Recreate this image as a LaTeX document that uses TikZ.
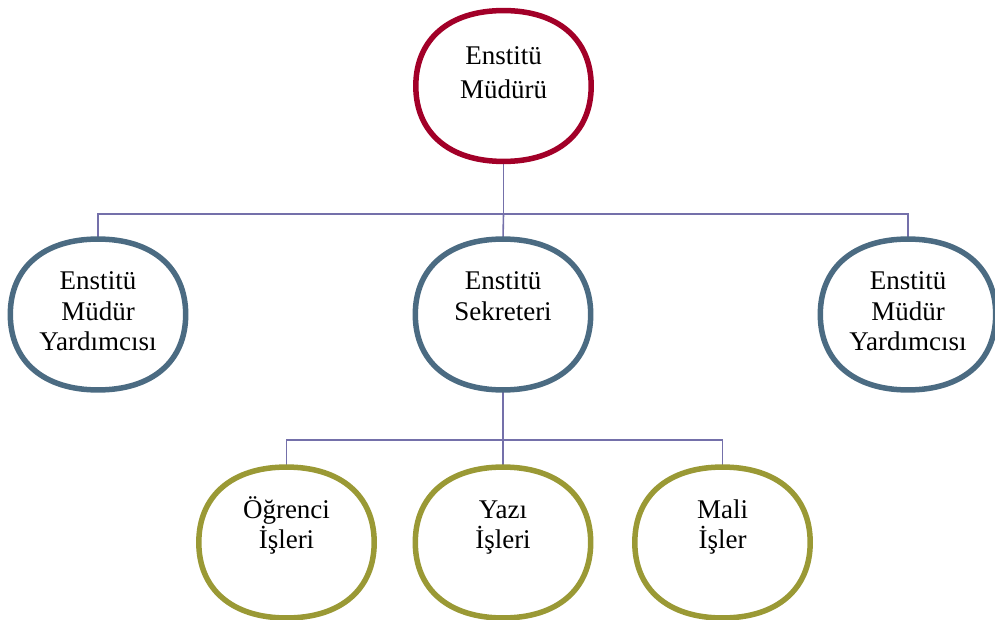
\documentclass[tikz,border=0pt]{standalone}
\usepackage{fontspec}
\setmainfont{Liberation Serif}
\usetikzlibrary{calc,backgrounds}
\definecolor{cred}{HTML}{A20028}
\definecolor{cblue}{HTML}{4B6B82}
\definecolor{colive}{HTML}{9A9935}
\definecolor{cline}{HTML}{7470AA}
\tikzset{
  box/.style={draw=none, minimum width=175pt, minimum height=150.5pt, inner sep=0pt},
  blobline/.style={line width=5.5pt, fill=white, line join=round},
  lbl/.style={align=center, inner sep=0pt, anchor=north, text=black,
    font=\fontsize{27}{30.5}\selectfont},
  conn/.style={draw=cline, line width=1.6pt}
}
\newcommand\drawblob[2]{%
  \filldraw[blobline, draw=#2]
  (#1.west) .. controls ($(#1.west)!0.62!(#1.north west)$) and ($(#1.north)!0.62!(#1.north west)$) .. (#1.north)
  .. controls ($(#1.north)!0.62!(#1.north east)$) and ($(#1.east)!0.62!(#1.north east)$) .. (#1.east)
  .. controls ($(#1.east)!0.62!(#1.south east)$) and ($(#1.south)!0.62!(#1.south east)$) .. (#1.south)
  .. controls ($(#1.south)!0.62!(#1.south west)$) and ($(#1.west)!0.62!(#1.south west)$) .. (#1.west) -- cycle;}
\begin{document}
\begin{tikzpicture}[x=1pt,y=1pt]
\useasboundingbox (0,0) rectangle (995,619);
% shape anchors
\node[box] (top) at (503.5,533) {};
\node[box] (ml) at (98,304.5) {};
\node[box] (mc) at (503,304.5) {};
\node[box] (mr) at (908,304.5) {};
\node[box] (bl) at (286.5,76.5) {};
\node[box] (bc) at (503,76.5) {};
\node[box] (br) at (722.5,76.5) {};
% shapes
\drawblob{top}{cred}
\drawblob{ml}{cblue}
\drawblob{mc}{cblue}
\drawblob{mr}{cblue}
\drawblob{bl}{colive}
\drawblob{bc}{colive}
\drawblob{br}{colive}
% texts
\node[lbl, font=\fontsize{27}{34}\selectfont] (ttop) at ($(top.north)+(0,-30)$) {\rule{0pt}{24pt}Enstitü\\Müdürü};
\node[lbl] (tml) at ($(ml.north)+(0,-26.5)$) {\rule{0pt}{24pt}Enstitü\\Müdür\\Yardımcısı};
\node[lbl] (tmc) at ($(mc.north)+(0,-26.5)$) {\rule{0pt}{24pt}Enstitü\\Sekreteri};
\node[lbl] (tmr) at ($(mr.north)+(0,-26.5)$) {\rule{0pt}{24pt}Enstitü\\Müdür\\Yardımcısı};
\node[lbl] (tbl) at ($(bl.north)+(0,-27)$) {\rule{0pt}{24pt}Öğrenci\\İşleri};
\node[lbl] (tbc) at ($(bc.north)+(0,-27)$) {\rule{0pt}{24pt}Yazı\\İşleri};
\node[lbl] (tbr) at ($(br.north)+(0,-27)$) {\rule{0pt}{24pt}Mali\\İşler};
% connectors
\coordinate (bus1) at (503.5,405);
\coordinate (bus2) at (503,179);
\begin{scope}[on background layer]
\draw[conn] (top.south) -- (bus1);
\draw[conn] (ml.north) |- (bus1) -| (mr.north);
\draw[conn] (bus1) -- (mc.north);
\draw[conn] (mc.south) -- (bus2);
\draw[conn] (bl.north) |- (bus2) -| (br.north);
\draw[conn] (bus2) -- (bc.north);
\end{scope}
\end{tikzpicture}
\end{document}
